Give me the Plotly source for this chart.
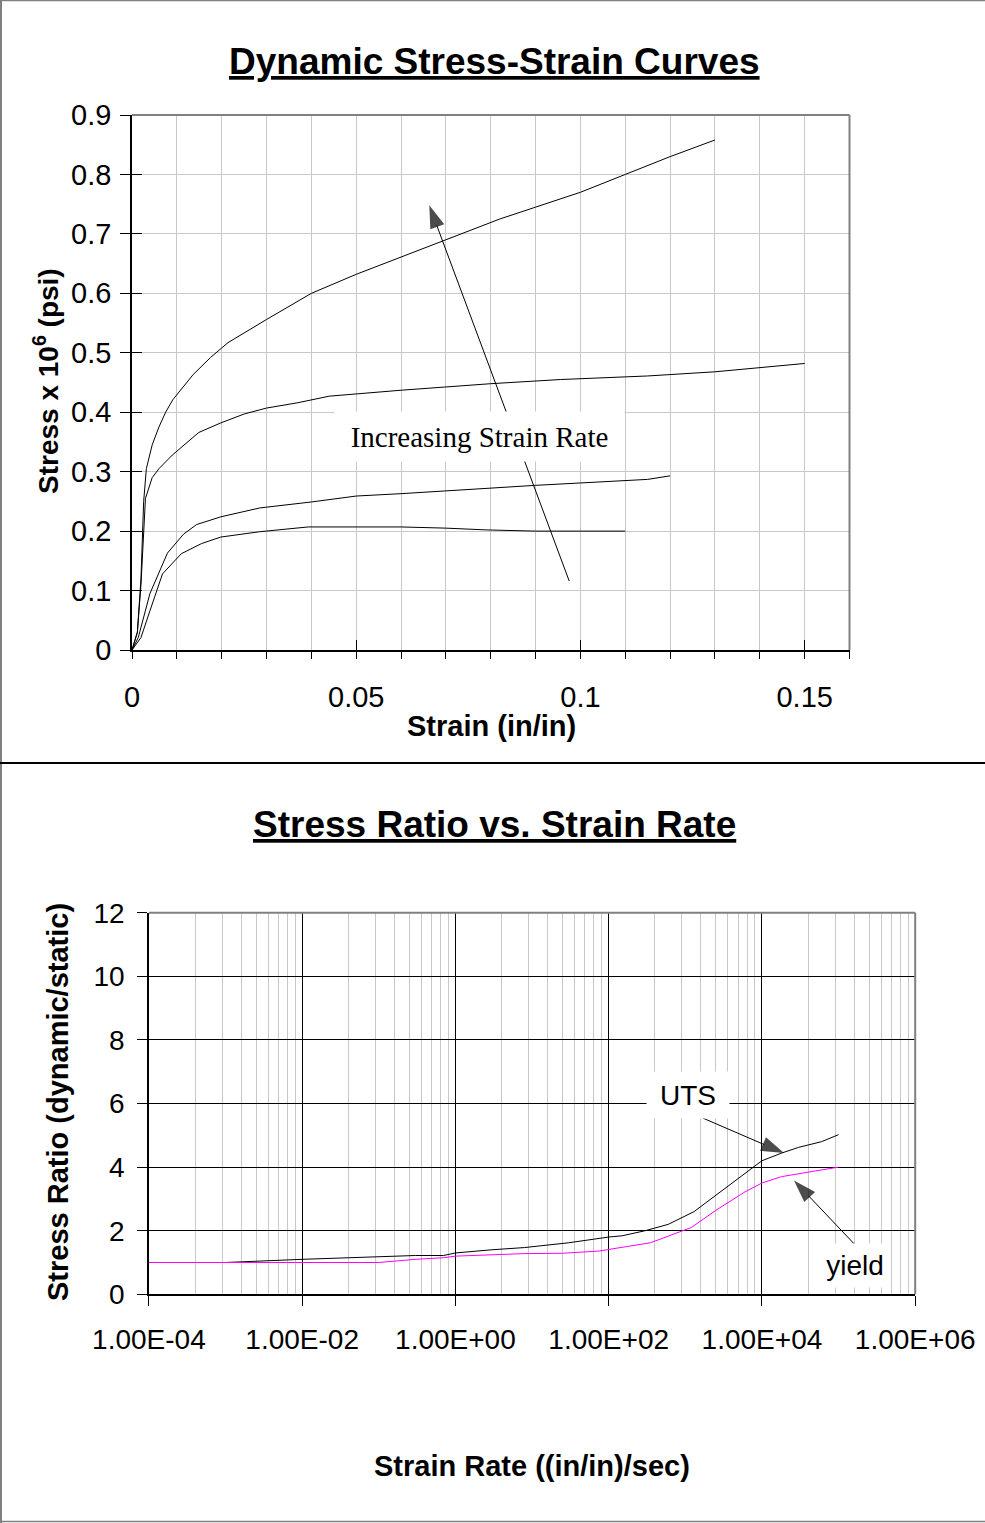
import plotly.graph_objects as go

# ---------------- data: top chart (Dynamic Stress-Strain Curves) ----------------
strain_a = [0, 0.0012, 0.002, 0.0026, 0.0032, 0.0045, 0.006, 0.0075, 0.0091, 0.0136, 0.0175, 0.0214,
            0.03, 0.04, 0.05, 0.06, 0.0686, 0.082, 0.09, 0.10, 0.11, 0.12, 0.13]
stress_a = [0, 0.03, 0.12, 0.25, 0.305, 0.345, 0.375, 0.40, 0.421, 0.463, 0.492, 0.517,
            0.556, 0.600, 0.632, 0.661, 0.686, 0.725, 0.745, 0.770, 0.800, 0.830, 0.858]

strain_b = [0, 0.0012, 0.002, 0.0026, 0.003, 0.0045, 0.006, 0.009, 0.0149, 0.0198, 0.025, 0.03,
            0.037, 0.044, 0.06, 0.08, 0.0956, 0.115, 0.13, 0.15]
stress_b = [0, 0.03, 0.11, 0.20, 0.255, 0.29, 0.305, 0.328, 0.366, 0.382, 0.397, 0.407,
            0.416, 0.427, 0.437, 0.448, 0.455, 0.461, 0.468, 0.482]

strain_c = [0, 0.0014, 0.004, 0.006, 0.0079, 0.0115, 0.0144, 0.0198, 0.0285, 0.04, 0.05, 0.06,
            0.07, 0.08, 0.09, 0.10, 0.11, 0.115, 0.12]
stress_c = [0, 0.021, 0.095, 0.13, 0.163, 0.195, 0.211, 0.224, 0.239, 0.249, 0.259, 0.263,
            0.268, 0.273, 0.277, 0.281, 0.285, 0.287, 0.293]

strain_d = [0, 0.002, 0.004, 0.0068, 0.011, 0.0155, 0.0198, 0.0285, 0.0393, 0.06, 0.07, 0.079, 0.09, 0.11]
stress_d = [0, 0.021, 0.066, 0.128, 0.162, 0.179, 0.190, 0.199, 0.207, 0.207, 0.205, 0.202, 0.200, 0.200]

# arrow "Increasing Strain Rate": [tail, head]
arrow1_x = [0.0975, 0.0663]
arrow1_y = [0.116, 0.748]

# ---------------- data: bottom chart (Stress Ratio vs. Strain Rate) ----------------
rate_uts = [1e-4, 1e-3, 1e-2, 1e-1, 3e-1, 7e-1, 1, 3, 8, 30, 50, 100, 150, 300, 600, 1300,
            1e4, 1.8e4, 3e4, 6e4, 1e5]
ratio_uts = [1.0, 1.0, 1.1, 1.18, 1.22, 1.22, 1.30, 1.40, 1.47, 1.62, 1.70, 1.80, 1.84, 2.0, 2.2, 2.6,
             4.2, 4.44, 4.62, 4.8, 5.02]

rate_yield = [1e-4, 1e-3, 1e-2, 1e-1, 3e-1, 7e-1, 1, 2.5, 8, 25, 75, 100, 350, 1200, 2500, 6000,
              1e4, 1.8e4, 3.5e4, 1e5]
ratio_yield = [1.0, 1.0, 1.0, 1.0, 1.1, 1.15, 1.2, 1.24, 1.28, 1.29, 1.36, 1.41, 1.62, 2.1, 2.64, 3.22,
               3.5, 3.7, 3.82, 4.0]

# arrows: [tail, head]
arrow_uts_x = [1700, 19400]
arrow_uts_y = [5.54, 4.44]
arrow_yield_x = [162000, 26200]
arrow_yield_y = [1.57, 3.58]

rate_tickvals = [1e-4, 1e-2, 1e0, 1e2, 1e4, 1e6]
rate_ticktext = ["1.00E-04", "1.00E-02", "1.00E+00", "1.00E+02", "1.00E+04", "1.00E+06"]

# ---------------- styling ----------------
W, H = 985, 1523
GRID = "#c8c8c8"
BORDER = "#808080"
SANS = "Liberation Sans, Arial, sans-serif"
SERIF = "Liberation Serif, Times New Roman, serif"


def px_x(p):
    return p / W


def px_y(p):
    return 1 - p / H


fig = go.Figure()

for xs, ys in [(strain_a, stress_a), (strain_b, stress_b), (strain_c, stress_c), (strain_d, stress_d)]:
    fig.add_trace(go.Scatter(x=xs, y=ys, xaxis="x", yaxis="y", mode="lines",
                             line=dict(color="black", width=1), hoverinfo="skip", showlegend=False))

fig.add_trace(go.Scatter(x=rate_uts, y=ratio_uts, xaxis="x2", yaxis="y2", mode="lines",
                         line=dict(color="black", width=1), name="UTS", showlegend=False))
fig.add_trace(go.Scatter(x=rate_yield, y=ratio_yield, xaxis="x2", yaxis="y2", mode="lines",
                         line=dict(color="#ff00ff", width=1), name="yield", showlegend=False))


def arrow(xs, ys, xa, ya):
    return go.Scatter(x=xs, y=ys, xaxis=xa, yaxis=ya, mode="lines+markers",
                      line=dict(color="black", width=1),
                      marker=dict(symbol=["circle", "arrow"], size=[0, 24], angleref="previous",
                                  color="black", line=dict(width=0)),
                      hoverinfo="skip", showlegend=False)


fig.add_trace(arrow(arrow1_x, arrow1_y, "x", "y"))
fig.add_trace(arrow(arrow_uts_x, arrow_uts_y, "x2", "y2"))
fig.add_trace(arrow(arrow_yield_x, arrow_yield_y, "x2", "y2"))

# dummy traces to activate overlay axes (crossing tick marks)
fig.add_trace(go.Scatter(x=[None], y=[None], xaxis="x3", yaxis="y", mode="lines",
                         hoverinfo="skip", showlegend=False))
fig.add_trace(go.Scatter(x=[None], y=[None], xaxis="x", yaxis="y3", mode="lines",
                         hoverinfo="skip", showlegend=False))

minor_vals = [k * k * 10.0 ** e for e in (-4, -2, 0, 2, 4) for k in range(2, 10)]

top_xdom = [px_x(132), px_x(849.5)]
top_ydom = [px_y(650), px_y(115)]
bot_xdom = [px_x(148.9), px_x(915.2)]
bot_ydom = [px_y(1294.3), px_y(912.7)]

fig.update_layout(
    template="none",
    width=W, height=H, margin=dict(l=0, r=0, t=0, b=0, pad=0, autoexpand=False),
    paper_bgcolor="white", plot_bgcolor="white", showlegend=False,
    font=dict(family=SANS, color="black"),
    xaxis=dict(domain=top_xdom, range=[0, 0.16], anchor="y", tickmode="linear", tick0=0, dtick=0.05,
               ticks="outside", ticklen=7, tickwidth=1, tickcolor="black",
               showgrid=True, gridcolor=GRID, gridwidth=1,
               minor=dict(tickmode="linear", tick0=0, dtick=0.01, ticks="outside", ticklen=7,
                          tickcolor="black", tickwidth=1, showgrid=True, gridcolor=GRID, gridwidth=1),
               showline=True, linecolor="black", linewidth=1.5, zeroline=False, automargin=False,
               tickfont=dict(size=29, family=SANS), ticklabelstandoff=13, fixedrange=True),
    yaxis=dict(domain=top_ydom, range=[0, 0.9], anchor="x", tickmode="linear", tick0=0, dtick=0.1,
               ticks="outside", ticklen=10, tickwidth=1, tickcolor="black",
               showgrid=True, gridcolor=GRID, gridwidth=1,
               showline=True, linecolor="black", linewidth=1.5, zeroline=False, automargin=False,
               tickfont=dict(size=29, family=SANS), ticklabelstandoff=3, fixedrange=True),
    xaxis3=dict(overlaying="x", anchor="y", range=[0, 0.16], tickmode="linear", tick0=0, dtick=0.05,
                ticks="inside", ticklen=10, tickwidth=1, tickcolor="black", showticklabels=False,
                showgrid=False, zeroline=False, showline=False, automargin=False, fixedrange=True),
    yaxis3=dict(overlaying="y", anchor="x", side="left", range=[0, 0.9], tickmode="linear", tick0=0, dtick=0.1,
                ticks="inside", ticklen=10, tickwidth=1, tickcolor="black", showticklabels=False,
                showgrid=False, zeroline=False, showline=False, automargin=False, fixedrange=True),
    xaxis2=dict(domain=bot_xdom, type="log", range=[-4, 6], anchor="y2",
                tickmode="array", tickvals=rate_tickvals, ticktext=rate_ticktext,
                ticks="outside", ticklen=10, tickwidth=1, tickcolor="black",
                showgrid=True, gridcolor="black", gridwidth=1,
                minor=dict(tickmode="array", tickvals=minor_vals, ticks="", showgrid=True,
                           gridcolor=GRID, gridwidth=1),
                showline=True, linecolor="black", linewidth=1.5, zeroline=False, automargin=False,
                tickfont=dict(size=28, family=SANS), ticklabelstandoff=9, fixedrange=True),
    yaxis2=dict(domain=bot_ydom, range=[0, 12], anchor="x2", tickmode="linear", tick0=0, dtick=2,
                ticks="outside", ticklen=10, tickwidth=1, tickcolor="black",
                showgrid=True, gridcolor="black", gridwidth=1,
                showline=True, linecolor="black", linewidth=1.5, zeroline=False, automargin=False,
                tickfont=dict(size=28, family=SANS), ticklabelstandoff=7, fixedrange=True),
)

shapes = []
# plot-area borders (top / right) in gray
for xd, yd in [("x domain", "y domain"), ("x2 domain", "y2 domain")]:
    shapes.append(dict(type="line", xref=xd, yref=yd, x0=0, x1=1, y0=1, y1=1,
                       line=dict(color=BORDER, width=2), layer="above"))
    shapes.append(dict(type="line", xref=xd, yref=yd, x0=1, x1=1, y0=0, y1=1,
                       line=dict(color=BORDER, width=2), layer="above"))
# outer frames
shapes.append(dict(type="line", xref="paper", yref="paper", x0=0, x1=1, y0=px_y(0.5), y1=px_y(0.5),
                   line=dict(color=BORDER, width=1.5)))
shapes.append(dict(type="line", xref="paper", yref="paper", x0=px_x(1), x1=px_x(1), y0=0, y1=1,
                   line=dict(color=BORDER, width=2)))
shapes.append(dict(type="line", xref="paper", yref="paper", x0=0, x1=1, y0=px_y(763), y1=px_y(763),
                   line=dict(color="black", width=2)))
shapes.append(dict(type="line", xref="paper", yref="paper", x0=0, x1=1, y0=px_y(1521.5), y1=px_y(1521.5),
                   line=dict(color=BORDER, width=1.5)))
fig.update_layout(shapes=shapes)

ann = []
ann.append(dict(text="<u><b>Dynamic Stress-Strain Curves</b></u>", xref="paper", yref="paper",
                x=px_x(495), y=px_y(61), xanchor="center", yanchor="middle", showarrow=False,
                font=dict(size=37, family=SANS, color="black")))
ann.append(dict(text="<b>Strain (in/in)</b>", xref="paper", yref="paper",
                x=px_x(491.5), y=px_y(725.6), xanchor="center", yanchor="middle", showarrow=False,
                font=dict(size=29, family=SANS, color="black")))
ann.append(dict(text="<b>Stress x 10<sup>6</sup> (psi)</b>", xref="paper", yref="paper", textangle=-90,
                x=px_x(46), y=px_y(381), xanchor="center", yanchor="middle", showarrow=False,
                font=dict(size=28, family=SANS, color="black")))
ann.append(dict(text="<u><b>Stress Ratio vs. Strain Rate</b></u>", xref="paper", yref="paper",
                x=px_x(494), y=px_y(824), xanchor="center", yanchor="middle", showarrow=False,
                font=dict(size=37, family=SANS, color="black")))
ann.append(dict(text="<b>Strain Rate ((in/in)/sec)</b>", xref="paper", yref="paper",
                x=px_x(531.7), y=px_y(1465.6), xanchor="center", yanchor="middle", showarrow=False,
                font=dict(size=29, family=SANS, color="black")))
ann.append(dict(text="<b>Stress Ratio (dynamic/static)</b>", xref="paper", yref="paper", textangle=-90,
                x=px_x(58), y=px_y(1102), xanchor="center", yanchor="middle", showarrow=False,
                font=dict(size=29, family=SANS, color="black")))
# label boxes (white background hides the arrow / gridlines behind them)
ann.append(dict(text="Increasing Strain Rate", xref="x", yref="y", x=0.0776, y=0.360,
                xanchor="center", yanchor="middle", showarrow=False, bgcolor="white",
                width=287, height=47, font=dict(size=29, family=SERIF, color="black")))
ann.append(dict(text="UTS", xref="x2", yref="y2", x=3.037, y=6.27,
                xanchor="center", yanchor="middle", showarrow=False, bgcolor="white",
                width=80, height=44, font=dict(size=28, family=SANS, color="black")))
ann.append(dict(text="yield", xref="x2", yref="y2", x=5.21, y=0.92,
                xanchor="center", yanchor="middle", showarrow=False, bgcolor="white",
                width=68, height=41, font=dict(size=28, family=SANS, color="black")))
fig.update_layout(annotations=ann)

fig.write_html("out.html", config={"displayModeBar": False},
               post_script="document.body.style.margin='0';document.body.style.padding='0';")
